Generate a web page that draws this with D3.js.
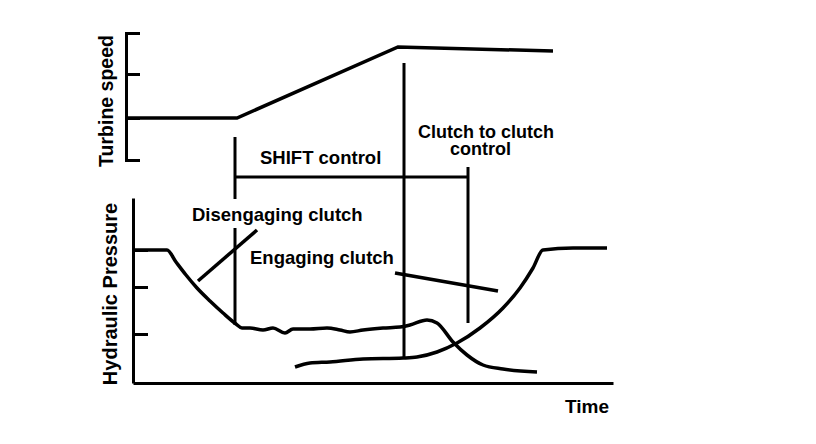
<!DOCTYPE html>
<html>
<head>
<meta charset="utf-8">
<script src="https://cdn.jsdelivr.net/npm/d3@7"></script>
<style>
  body { margin: 0; background: #fff; }
  svg text { font-family: "Liberation Sans", Arial, sans-serif; font-weight: bold; fill: #000; }
</style>
</head>
<body>
<div id="chart"></div>
<script>
// time in arbitrary units, pressure / speed in arbitrary units (schematic chart)
const turbineTime = [-7, 104, 265, 420];
const turbineSpeed = [42, 42, 113, 109];

const disengageTime = [0, 34, 43, 53, 64, 77, 90, 103, 109, 117, 130, 140, 152, 160, 177, 194, 207, 217, 230, 250, 267, 277, 294, 304, 320, 334, 350, 370, 404];
const disengagePressure = [133, 133, 121, 108, 95, 82, 70, 59, 55, 55, 53, 55, 50, 54, 54, 55, 53, 51, 53, 55, 56, 58, 63, 60, 41, 28, 18, 14, 11];

const engageTime = [162, 177, 197, 230, 270, 284, 304, 324, 347, 370, 387, 400, 410, 440, 474];
const engagePressure = [16, 20, 21, 24, 25, 26, 31, 40, 55, 75, 95, 115, 133, 135, 135];

const speedTicks = [0, 42, 86, 127];
const pressureTicks = [49, 96, 133];

// phase markers: time, top end (speed units), bottom end (pressure units)
const markerTime = [102, 271, 335];
const markerTopSpeed = [23, 97, -7];
const markerBottomPressure = [58, 25, 60];

const width = 816;
const height = 444;

const x = d3.scaleLinear().domain([0, 480]).range([133, 613]);
const ySpeed = d3.scaleLinear().domain([0, 127]).range([160, 33]);
const yPress = d3.scaleLinear().domain([0, 185]).range([383, 198]);

const svg = d3.select("#chart").append("svg")
    .attr("width", width)
    .attr("height", height);

// axes
svg.append("g")
    .attr("transform", "translate(" + x(-7) + ",0)")
    .call(d3.axisRight(ySpeed).tickValues(speedTicks).tickSize(14).tickSizeOuter(14).tickFormat(""));

svg.append("g")
    .attr("transform", "translate(" + x(0) + ",0)")
    .call(d3.axisRight(yPress).tickValues(pressureTicks).tickSize(15).tickSizeOuter(0).tickFormat(""));

svg.append("g")
    .attr("transform", "translate(0," + yPress(0) + ")")
    .call(d3.axisBottom(x).tickValues([]).tickSizeOuter(0));

svg.selectAll(".domain, .tick line")
    .attr("stroke", "#000")
    .attr("stroke-width", 3);

// phase markers
markerTime.forEach((t, i) => {
    svg.append("line")
        .attr("x1", x(t)).attr("x2", x(t))
        .attr("y1", ySpeed(markerTopSpeed[i]))
        .attr("y2", yPress(markerBottomPressure[i]))
        .attr("stroke", "#000")
        .attr("stroke-width", 3);
});

// SHIFT control bracket
svg.append("line")
    .attr("x1", x(markerTime[0])).attr("x2", x(markerTime[2]))
    .attr("y1", ySpeed(-17)).attr("y2", ySpeed(-17))
    .attr("stroke", "#000")
    .attr("stroke-width", 3);

// curves
const speedLine = d3.line()
    .x(d => x(d[0]))
    .y(d => ySpeed(d[1]));

svg.append("path")
    .datum(d3.zip(turbineTime, turbineSpeed))
    .attr("d", speedLine)
    .attr("fill", "none")
    .attr("stroke", "#000")
    .attr("stroke-width", 3.5);

const pressLine = d3.line()
    .x(d => x(d[0]))
    .y(d => yPress(d[1]))
    .curve(d3.curveMonotoneX);

svg.append("path")
    .datum(d3.zip(disengageTime, disengagePressure))
    .attr("d", pressLine)
    .attr("fill", "none")
    .attr("stroke", "#000")
    .attr("stroke-width", 3.5);

svg.append("path")
    .datum(d3.zip(engageTime, engagePressure))
    .attr("d", pressLine)
    .attr("fill", "none")
    .attr("stroke", "#000")
    .attr("stroke-width", 3.5);

// pointer lines
svg.append("line")
    .attr("x1", x(124)).attr("y1", yPress(153))
    .attr("x2", x(65)).attr("y2", yPress(102))
    .attr("stroke", "#000").attr("stroke-width", 3.5);

svg.append("line")
    .attr("x1", x(262)).attr("y1", yPress(110))
    .attr("x2", x(365)).attr("y2", yPress(92))
    .attr("stroke", "#000").attr("stroke-width", 3.5);

// labels
function label(txt, px, py, size, halo) {
    const t = svg.append("text")
        .attr("x", px).attr("y", py)
        .attr("font-size", size)
        .text(txt);
    if (halo) {
        const b = t.node().getBBox();
        svg.insert("rect", () => t.node())
            .attr("x", b.x - 3).attr("y", b.y - 5)
            .attr("width", b.width + 6).attr("height", b.height + 8)
            .attr("fill", "#fff");
    }
    return t;
}

label("SHIFT control", 260, 164, 18.5);
label("Disengaging clutch", 192, 221, 18.5, true);
label("Engaging clutch", 250, 264, 18.5);
label("Time", 565, 413, 19);

// two-line label
const c2c = svg.append("text")
    .attr("font-size", 18);
c2c.append("tspan").attr("x", 418).attr("y", 138).text("Clutch to clutch");
c2c.append("tspan").attr("x", 450).attr("y", 155).text("control");

svg.append("text")
    .attr("transform", "translate(113,101) rotate(-90)")
    .attr("text-anchor", "middle")
    .attr("font-size", 19.5)
    .text("Turbine speed");

svg.append("text")
    .attr("transform", "translate(117,294) rotate(-90)")
    .attr("text-anchor", "middle")
    .attr("font-size", 20)
    .text("Hydraulic Pressure");
</script>
</body>
</html>
